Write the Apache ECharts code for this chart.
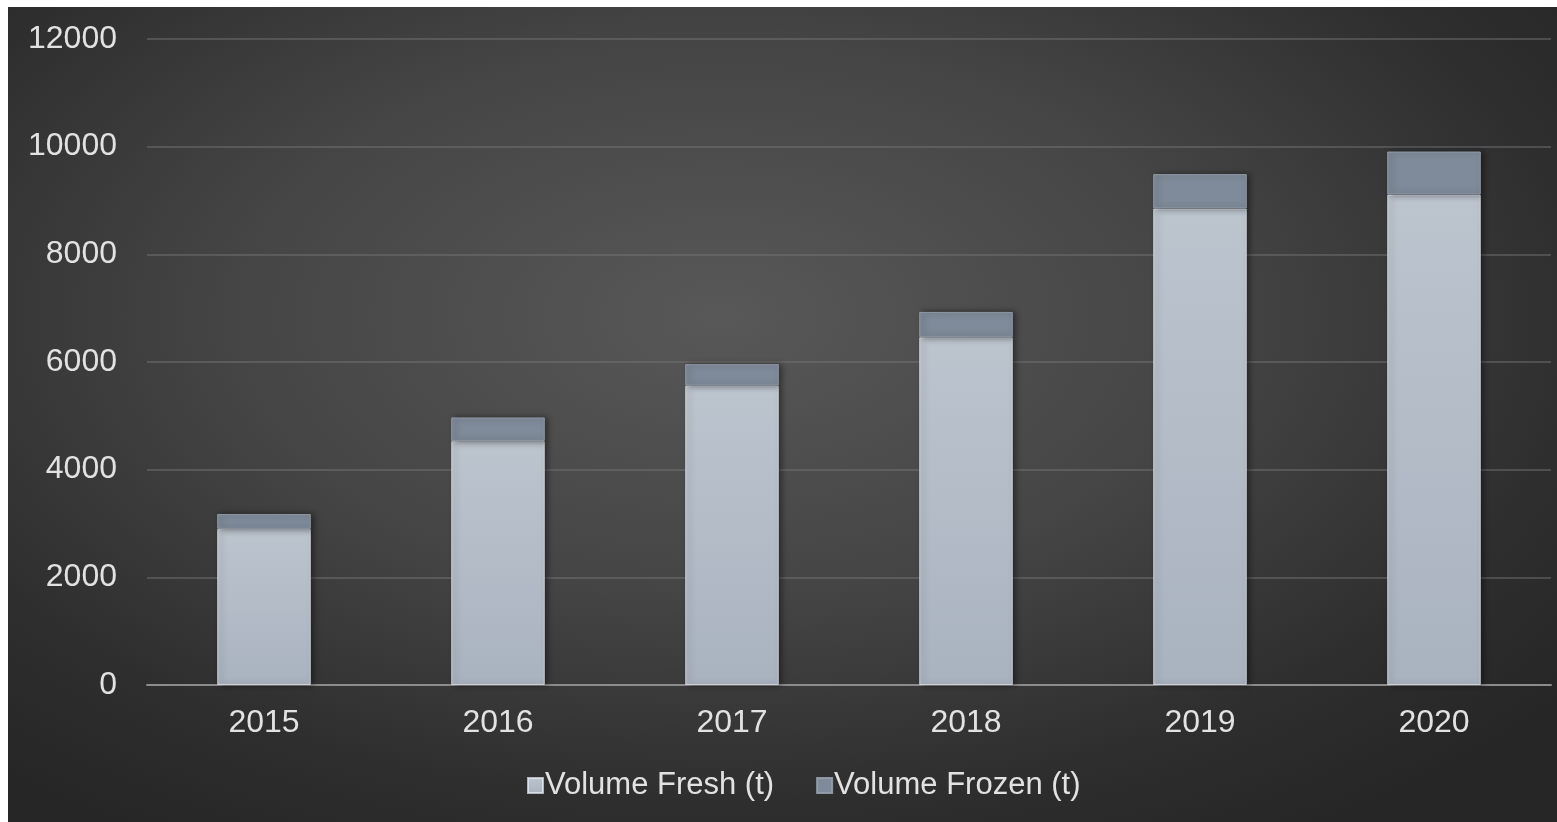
<!DOCTYPE html>
<html>
<head>
<meta charset="utf-8">
<script src="https://cdn.jsdelivr.net/npm/echarts@6/dist/echarts.min.js"></script>
<style>
  html, body { margin: 0; padding: 0; background: #ffffff; width: 1557px; height: 822px; overflow: hidden; }
  #panel {
    position: absolute; left: 8px; top: 7px; width: 1549px; height: 815px;
    background: radial-gradient(ellipse 70% 75% at 46% 38%, #585858 0%, #454545 45%, #2e2e2e 80%, #262626 100%);
  }
  #chart { width: 100%; height: 100%; }
</style>
</head>
<body>
<div id="panel"><div id="chart"></div></div>
<script>
// Annual volumes in tonnes
const years = ['2015', '2016', '2017', '2018', '2019', '2020'];
const volumeFresh = [2900, 4530, 5560, 6460, 8850, 9110];
const volumeFrozen = [275, 440, 400, 470, 640, 800];
const seriesNames = ['Volume Fresh (t)', 'Volume Frozen (t)'];

const textColor = '#e2e2e2';
const font = '"Liberation Sans", Arial, sans-serif';

const chart = echarts.init(document.getElementById('chart'), null, { renderer: 'canvas' });

chart.setOption({
  backgroundColor: 'transparent',
  animation: false,
  grid: { left: 139, right: 6, top: 32, bottom: 137, containLabel: false },
  legend: {
    bottom: 16,
    left: 514,
    itemWidth: 15,
    itemHeight: 15,
    itemGap: 42,
    icon: 'rect',
    textStyle: { color: textColor, fontSize: 31, fontFamily: font, padding: [0, 0, 0, -3] },
    data: seriesNames
  },
  xAxis: {
    type: 'category',
    data: years,
    axisTick: { show: false },
    axisLine: { show: true, lineStyle: { color: '#8c8c8c', width: 2 } },
    axisLabel: { color: textColor, fontSize: 32, fontFamily: font, margin: 22 }
  },
  yAxis: {
    type: 'value',
    min: 0,
    max: 12000,
    interval: 2000,
    axisLine: { show: false },
    axisTick: { show: false },
    splitLine: { lineStyle: { color: 'rgba(120,120,120,0.45)', width: 2 } },
    axisLabel: { color: textColor, fontSize: 32, fontFamily: font, margin: 30, formatter: v => String(v) }
  },
  series: [
    {
      name: seriesNames[0],
      type: 'bar',
      stack: 'vol',
      barWidth: '40%',
      data: volumeFresh,
      itemStyle: {
        color: new echarts.graphic.LinearGradient(0, 0, 0, 1, [
          { offset: 0, color: '#bcc4ce' },
          { offset: 1, color: '#a9b3bf' }
        ]),
        borderColor: 'rgba(235,240,245,0.7)',
        borderWidth: 1,
        shadowColor: 'rgba(0,0,0,0.45)',
        shadowBlur: 6,
        shadowOffsetX: 3
      }
    },
    {
      name: seriesNames[1],
      type: 'bar',
      stack: 'vol',
      barWidth: '40%',
      data: volumeFrozen,
      itemStyle: {
        color: '#7f8b9a',
        borderColor: 'rgba(150,160,172,0.9)',
        borderWidth: 1,
        shadowColor: 'rgba(0,0,0,0.45)',
        shadowBlur: 6,
        shadowOffsetX: 3
      }
    }
  ]
});
</script>
</body>
</html>
